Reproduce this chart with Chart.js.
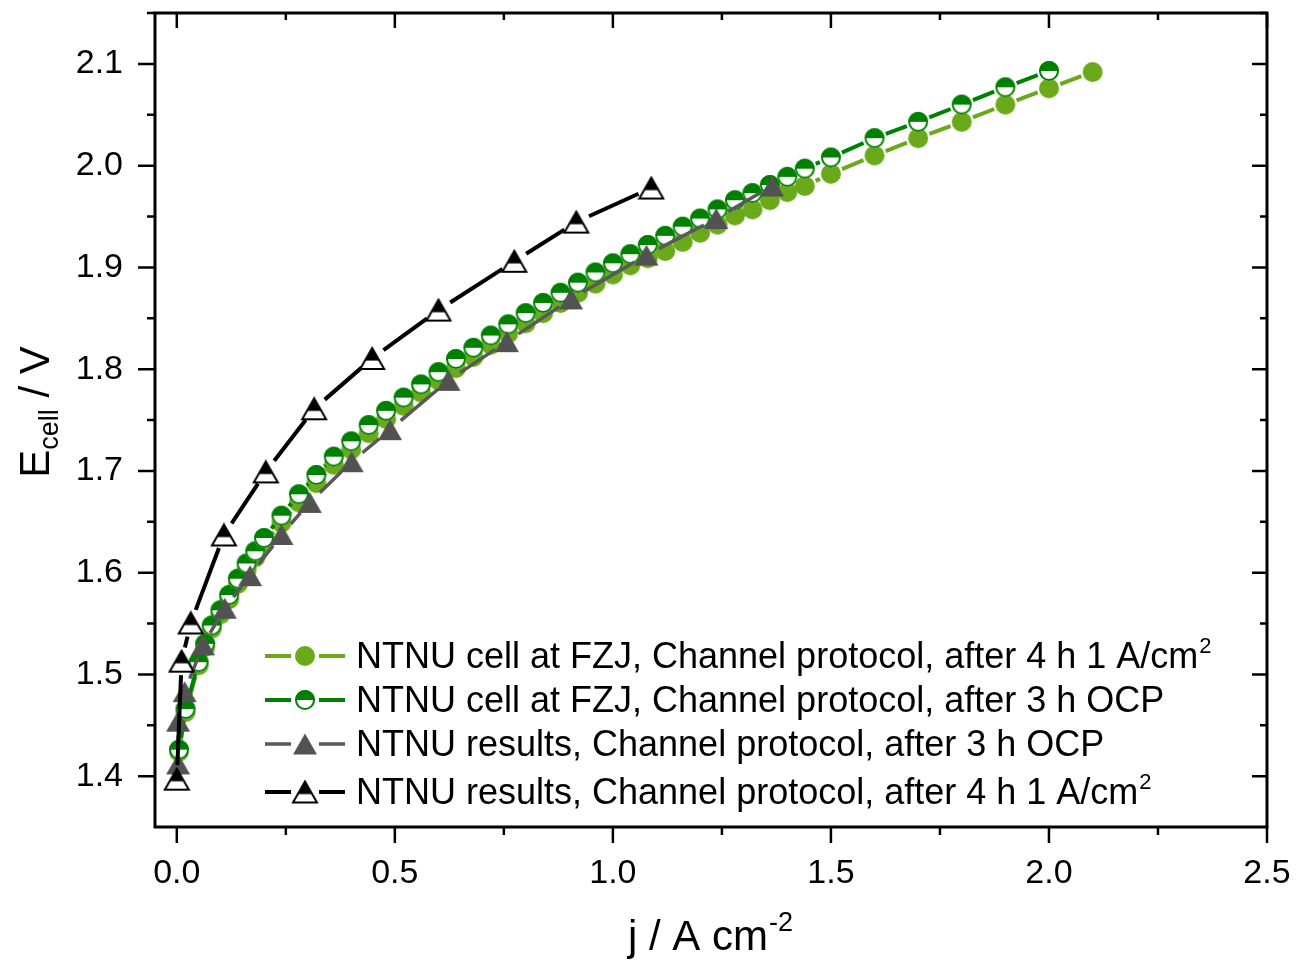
<!DOCTYPE html>
<html>
<head>
<meta charset="utf-8">
<script src="https://cdn.jsdelivr.net/npm/chart.js@4.4.1/dist/chart.umd.min.js"></script>
<style>
  html, body { margin: 0; padding: 0; background: #fff; }
</style>
</head>
<body>
<canvas id="chart" width="1298" height="960"></canvas>
<script>
// values: j in A/cm2, E in V
const fzj4hJ = [0.005, 0.02, 0.05, 0.065, 0.08, 0.10, 0.12, 0.14, 0.16, 0.18, 0.20, 0.24, 0.28, 0.32, 0.36, 0.40, 0.44, 0.48, 0.52, 0.56, 0.60, 0.64, 0.68, 0.72, 0.76, 0.80, 0.84, 0.88, 0.92, 0.96, 1.00, 1.04, 1.08, 1.12, 1.16, 1.20, 1.24, 1.28, 1.32, 1.36, 1.40, 1.44, 1.5, 1.6, 1.7, 1.8, 1.9, 2.0, 2.1];
const fzj4hE = [1.424, 1.463, 1.509, 1.527, 1.545, 1.559, 1.574, 1.589, 1.603, 1.615, 1.628, 1.649, 1.669, 1.688, 1.706, 1.721, 1.737, 1.751, 1.764, 1.777, 1.789, 1.801, 1.812, 1.824, 1.835, 1.845, 1.855, 1.865, 1.875, 1.884, 1.893, 1.902, 1.909, 1.916, 1.925, 1.934, 1.942, 1.951, 1.957, 1.966, 1.974, 1.980, 1.992, 2.010, 2.027, 2.043, 2.060, 2.076, 2.092];

const fzjOcpJ = [0.005, 0.02, 0.05, 0.065, 0.08, 0.10, 0.12, 0.14, 0.16, 0.18, 0.20, 0.24, 0.28, 0.32, 0.36, 0.40, 0.44, 0.48, 0.52, 0.56, 0.60, 0.64, 0.68, 0.72, 0.76, 0.80, 0.84, 0.88, 0.92, 0.96, 1.00, 1.04, 1.08, 1.12, 1.16, 1.20, 1.24, 1.28, 1.32, 1.36, 1.40, 1.44, 1.5, 1.6, 1.7, 1.8, 1.9, 2.0];
const fzjOcpE = [1.426, 1.466, 1.512, 1.530, 1.548, 1.563, 1.578, 1.594, 1.609, 1.621, 1.634, 1.656, 1.677, 1.696, 1.714, 1.729, 1.745, 1.759, 1.772, 1.785, 1.797, 1.810, 1.821, 1.833, 1.844, 1.855, 1.865, 1.875, 1.885, 1.895, 1.904, 1.913, 1.922, 1.931, 1.940, 1.948, 1.957, 1.966, 1.973, 1.981, 1.989, 1.997, 2.008, 2.027, 2.043, 2.060, 2.077, 2.093];

const ntnuOcpJ = [0.003, 0.003, 0.018, 0.06, 0.11, 0.168, 0.24, 0.305, 0.401, 0.489, 0.623, 0.757, 0.904, 1.077, 1.237, 1.365];
const ntnuOcpE = [1.412, 1.454, 1.483, 1.529, 1.565, 1.597, 1.6375, 1.669, 1.709, 1.7405, 1.789, 1.827, 1.869, 1.912, 1.948, 1.980];

const ntnu4hJ = [0.0, 0.011, 0.032, 0.108, 0.204, 0.315, 0.448, 0.600, 0.774, 0.916, 1.088];
const ntnu4hE = [1.397, 1.513, 1.5505, 1.637, 1.699, 1.761, 1.8105, 1.858, 1.906, 1.9445, 1.978];

const seriesLabels = [
    "NTNU cell at FZJ, Channel protocol, after 4 h 1 A/cm²",
    "NTNU cell at FZJ, Channel protocol, after 3 h OCP",
    "NTNU results, Channel protocol, after 3 h OCP",
    "NTNU results, Channel protocol, after 4 h 1 A/cm²"
];

const xTicks = [0, 0.5, 1.0, 1.5, 2.0, 2.5];
const yTicks = [1.4, 1.5, 1.6, 1.7, 1.8, 1.9, 2.0, 2.1];

const FONT = "'Liberation Sans', Arial, sans-serif";
const LIGHT_GREEN = "#6aaa1a";
const DARK_GREEN = "#008000";
const GRAY = "#525252";

// marker images
function circleMarker(r, color) {
    const c = document.createElement("canvas");
    c.width = c.height = 2 * r + 2;
    const g = c.getContext("2d");
    g.fillStyle = color;
    g.beginPath();
    g.arc(c.width / 2, c.height / 2, r, 0, 2 * Math.PI);
    g.fill();
    return c;
}

function halfCircleMarker(r, color) {
    const c = document.createElement("canvas");
    c.width = c.height = 2 * r + 2;
    const g = c.getContext("2d");
    const m = c.width / 2;
    g.fillStyle = "#fff";
    g.beginPath(); g.arc(m, m, r, 0, 2 * Math.PI); g.fill();
    g.fillStyle = color;
    g.beginPath(); g.arc(m, m, r, Math.PI, 2 * Math.PI); g.closePath(); g.fill();
    g.strokeStyle = color; g.lineWidth = 2;
    g.beginPath(); g.arc(m, m, r - 1, 0, 2 * Math.PI); g.stroke();
    return c;
}

function triangleMarker(w, h, color, split) {
    const c = document.createElement("canvas");
    c.width = w + 4; c.height = h + 4;
    const g = c.getContext("2d");
    const path = () => {
        g.beginPath();
        g.moveTo(c.width / 2, 2);
        g.lineTo(w + 2, h + 2);
        g.lineTo(2, h + 2);
        g.closePath();
    };
    if (split) {
        g.fillStyle = "#fff"; path(); g.fill();
        g.save(); path(); g.clip();
        g.fillStyle = color; g.fillRect(0, 0, c.width, 2 + h * split);
        g.restore();
        g.strokeStyle = color; g.lineWidth = 2; g.lineJoin = "miter";
        path(); g.stroke();
    } else {
        g.fillStyle = color; path(); g.fill();
    }
    return c;
}

const markers = [
    circleMarker(10, LIGHT_GREEN),
    halfCircleMarker(10, DARK_GREEN),
    triangleMarker(24, 21, GRAY, 0),
    triangleMarker(24, 21, "#000", 0.6)
];

const toPts = (js, es) => js.map((j, i) => ({ x: j, y: es[i] }));

// lines between markers, with a gap around each marker
const gapLines = {
    id: "gapLines",
    beforeDatasetDraw(chart, args) {
        const ds = chart.data.datasets[args.index];
        const pts = args.meta.data;
        const ctx = chart.ctx;
        ctx.save();
        ctx.strokeStyle = ds.lineColor;
        ctx.lineWidth = ds.lineWidth;
        for (let i = 1; i < pts.length; i++) {
            const a = pts[i - 1], b = pts[i];
            const dx = b.x - a.x, dy = b.y - a.y, d = Math.hypot(dx, dy);
            if (d <= 2 * ds.gap + 1) continue;
            const ux = dx / d, uy = dy / d;
            ctx.beginPath();
            ctx.moveTo(a.x + ux * ds.gap, a.y + uy * ds.gap);
            ctx.lineTo(b.x - ux * ds.gap, b.y - uy * ds.gap);
            ctx.stroke();
        }
        ctx.restore();
    }
};

// draw a string, turning "²" into a raised small 2
function drawRich(ctx, text, x, y, size) {
    const parts = text.split("²");
    ctx.font = size + "px " + FONT;
    ctx.fillText(parts[0], x, y);
    let w = ctx.measureText(parts[0]).width;
    if (parts.length > 1) {
        ctx.font = Math.round(size * 0.62) + "px " + FONT;
        ctx.fillText("2", x + w + 1, y - size * 0.42);
    }
}

// frame, minor ticks, inward ticks on top/right, axis titles, legend
const decorations = {
    id: "decorations",
    afterDraw(chart) {
        const { ctx, chartArea: a, scales: { x, y } } = chart;
        ctx.save();
        ctx.strokeStyle = "#000";
        ctx.lineWidth = 3;
        ctx.strokeRect(a.left, a.top, a.right - a.left, a.bottom - a.top);

        ctx.lineWidth = 2.5;
        ctx.beginPath();
        for (let v = 0; v <= 2.5001; v += 0.25) {
            const px = x.getPixelForValue(v);
            const major = Math.abs(v / 0.5 - Math.round(v / 0.5)) < 1e-6;
            ctx.moveTo(px, a.bottom); ctx.lineTo(px, a.bottom + (major ? 16 : 8));
            ctx.moveTo(px, a.top); ctx.lineTo(px, a.top + (major ? 15 : 7));
        }
        for (let k = 0; k <= 15; k++) {
            const v = 1.4 + k * 0.05;
            const py = y.getPixelForValue(v);
            const major = k % 2 === 0;
            ctx.moveTo(a.left, py); ctx.lineTo(a.left - (major ? 17 : 8), py);
            ctx.moveTo(a.right, py); ctx.lineTo(a.right - (major ? 15 : 7), py);
        }
        ctx.stroke();

        // axis titles
        ctx.fillStyle = "#000";
        ctx.textBaseline = "alphabetic";
        ctx.textAlign = "left";
        ctx.font = "42px " + FONT;
        const xt = "j / A cm";
        const xw = ctx.measureText(xt).width;
        ctx.font = "27px " + FONT;
        const sw = ctx.measureText("-2").width;
        const x0 = 710 - (xw + sw) / 2;
        ctx.font = "42px " + FONT;
        ctx.fillText(xt, x0, 950);
        ctx.font = "27px " + FONT;
        ctx.fillText("-2", x0 + xw + 1, 931);

        ctx.save();
        ctx.translate(49, 412);
        ctx.rotate(-Math.PI / 2);
        ctx.font = "42px " + FONT;
        const ew = ctx.measureText("E").width;
        ctx.font = "27px " + FONT;
        const cw = ctx.measureText("cell").width;
        ctx.font = "42px " + FONT;
        const vw = ctx.measureText(" / V").width;
        let sx = -(ew + cw + vw) / 2;
        ctx.fillText("E", sx, 0);
        ctx.font = "27px " + FONT;
        ctx.fillText("cell", sx + ew, 9);
        ctx.font = "42px " + FONT;
        ctx.fillText(" / V", sx + ew + cw, 0);
        ctx.restore();

        // legend
        const rowsY = [656, 700, 744, 792];
        const lineColors = [LIGHT_GREEN, DARK_GREEN, "#595959", "#000"];
        const lineWidths = [4, 4, 3.5, 4];
        seriesLabels.forEach((label, i) => {
            const yy = rowsY[i];
            ctx.strokeStyle = lineColors[i];
            ctx.lineWidth = lineWidths[i];
            ctx.beginPath();
            ctx.moveTo(265, yy); ctx.lineTo(291, yy);
            ctx.moveTo(319, yy); ctx.lineTo(345, yy);
            ctx.stroke();
            const m = markers[i];
            ctx.drawImage(m, 305 - m.width / 2, yy - m.height / 2);
            ctx.fillStyle = "#000";
            drawRich(ctx, label, 356, yy + 12, 36);
        });
        ctx.restore();
    }
};

const ctx = document.getElementById("chart").getContext("2d");

new Chart(ctx, {
    type: "scatter",
    data: {
        datasets: [
            { label: seriesLabels[0], data: toPts(fzj4hJ, fzj4hE), pointStyle: markers[0], pointRadius: 10, lineColor: LIGHT_GREEN, lineWidth: 4, gap: 12, order: 4 },
            { label: seriesLabels[1], data: toPts(fzjOcpJ, fzjOcpE), pointStyle: markers[1], pointRadius: 10, lineColor: DARK_GREEN, lineWidth: 4, gap: 12, order: 3 },
            { label: seriesLabels[2], data: toPts(ntnuOcpJ, ntnuOcpE), pointStyle: markers[2], pointRadius: 12, lineColor: "#595959", lineWidth: 3.5, gap: 14, order: 2 },
            { label: seriesLabels[3], data: toPts(ntnu4hJ, ntnu4hE), pointStyle: markers[3], pointRadius: 12, lineColor: "#000", lineWidth: 4, gap: 14, order: 1 }
        ]
    },
    options: {
        responsive: false,
        devicePixelRatio: 1,
        animation: false,
        layout: { padding: { top: 10, right: 31, left: 0, bottom: 0 } },
        plugins: { legend: { display: false }, tooltip: { enabled: false } },
        scales: {
            x: {
                type: "linear",
                min: -0.05,
                max: 2.5,
                grid: { display: false },
                border: { display: false },
                afterBuildTicks: s => { s.ticks = xTicks.map(v => ({ value: v })); },
                afterFit: s => { s.height = 133; s.paddingLeft = 0; s.paddingRight = 0; },
                ticks: {
                    padding: 18,
                    color: "#000",
                    font: { family: FONT, size: 34 },
                    maxRotation: 0,
                    callback: v => Number(v).toFixed(1)
                }
            },
            y: {
                type: "linear",
                min: 1.35,
                max: 2.15,
                grid: { display: false },
                border: { display: false },
                afterBuildTicks: s => { s.ticks = yTicks.map(v => ({ value: v })); },
                afterFit: s => { s.width = 155; s.paddingTop = 0; s.paddingBottom = 0; },
                ticks: {
                    padding: 24,
                    color: "#000",
                    font: { family: FONT, size: 34 },
                    callback: v => Number(v).toFixed(1)
                }
            }
        }
    },
    plugins: [gapLines, decorations]
});
</script>
</body>
</html>
